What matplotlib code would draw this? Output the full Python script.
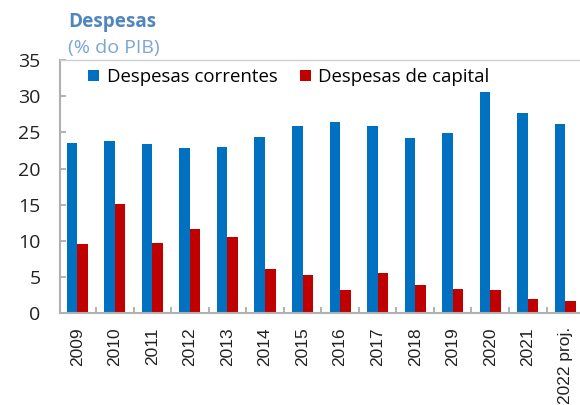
import matplotlib
matplotlib.use("Agg")
import matplotlib.pyplot as plt
import numpy as np

years = ["2009", "2010", "2011", "2012", "2013", "2014", "2015", "2016",
         "2017", "2018", "2019", "2020", "2021", "2022 proj."]
correntes = [23.6, 23.8, 23.4, 22.8, 23.0, 24.3, 25.9, 26.4, 25.9, 24.2, 24.9, 30.6, 27.7, 26.2]
capital = [9.6, 15.1, 9.7, 11.6, 10.6, 6.1, 5.3, 3.2, 5.5, 3.9, 3.3, 3.2, 2.0, 1.7]

fig = plt.figure(figsize=(5.8, 4.05), dpi=100)
ax = fig.add_axes([60/580, 91.7/405, 520/580, 253.3/405])

x = np.arange(len(years))
w = 0.28
ax.bar(x - w/2, correntes, width=w, color="#0070C0", label="Despesas correntes")
ax.bar(x + w/2, capital, width=w, color="#C00000", label="Despesas de capital")

ax.set_xlim(-0.46, 13.39)
ax.set_ylim(0, 35)
ax.set_yticks(range(0, 36, 5))
ax.set_xticks(x)
ax.set_xticklabels(years, rotation=90, fontfamily="Liberation Sans", fontsize=12.5)
ax.set_xticks(x[:-1] + 0.5, minor=True)
ax.tick_params(axis="x", which="major", length=0, pad=10)
ax.tick_params(axis="x", which="minor", direction="in", length=4, color="#a6a6a6", width=1.2)
ax.tick_params(axis="y", direction="in", length=4, color="#a6a6a6", width=1.2, pad=14)
for lab in ax.get_yticklabels():
    lab.set_fontfamily("Open Sans")
    lab.set_fontsize(14)
    lab.set_color("#222222")
for lab in ax.get_xticklabels():
    lab.set_color("#222222")

for s in ["left", "bottom", "top"]:
    ax.spines[s].set_color("#b0b0b0")
    ax.spines[s].set_linewidth(1.5)
ax.spines["top"].set_linewidth(1.0)
ax.spines["top"].set_color("#d0d0d0")
ax.spines["right"].set_visible(False)

leg = ax.legend(loc="upper left", ncol=2, frameon=False, bbox_to_anchor=(0.054, 0.968),
                prop={"family": "Open Sans", "size": 13.4}, handlelength=0.6, handleheight=0.55,
                handletextpad=0.4, columnspacing=1.2, borderaxespad=0, borderpad=0)

fig.text(68/580, 1 - 22/405, "Despesas", fontfamily="Open Sans", fontweight="bold",
         fontsize=13.6, color="#4f86c0", va="center", ha="left")
fig.text(68/580, 1 - 48/405, "(% do PIB)", fontfamily="Open Sans",
         fontsize=14, color="#7ba6d6", va="center", ha="left")

fig.savefig("out.png", dpi=100)
